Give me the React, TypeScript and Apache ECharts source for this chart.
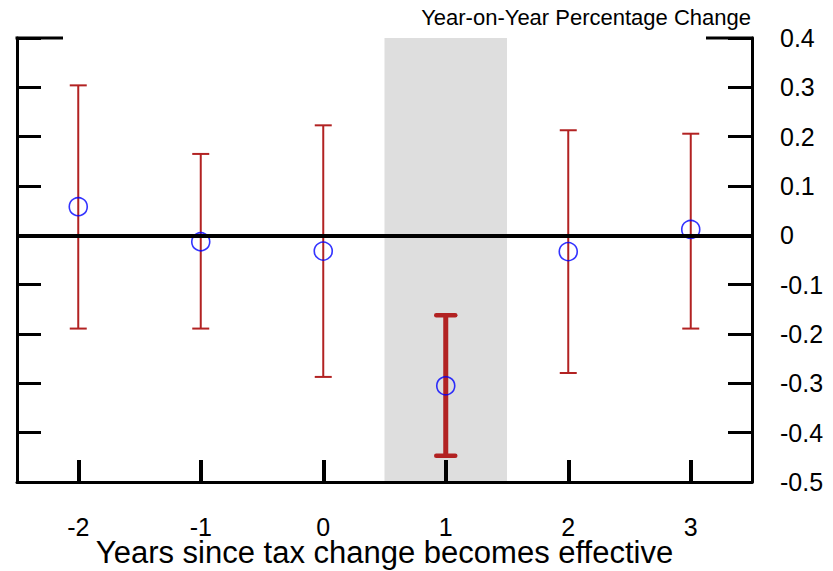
import React, { useEffect, useRef } from 'react';
import * as echarts from 'echarts';

const years = ['-2', '-1', '0', '1', '2', '3'];
const estimates = [0.058, -0.013, -0.032, -0.305, -0.033, 0.012];
const lowerBounds = [-0.189, -0.189, -0.287, -0.447, -0.279, -0.189];
const upperBounds = [0.304, 0.165, 0.223, -0.162, 0.213, 0.206];
const Y_MIN = -0.5;
const Y_MAX = 0.4;
const Y_STEP = 0.1;
const highlightYear = '1';
const titleText = 'Year-on-Year Percentage Change';
const xAxisTitle = 'Years since tax change becomes effective';

const FONT = '"Liberation Sans", Arial, Helvetica, sans-serif';
const RED = '#b22222';

export default function App() {
  const ref = useRef<HTMLDivElement>(null);
  useEffect(() => {
    if (!ref.current) return;
    const chart = echarts.init(ref.current, undefined, { renderer: 'svg' });
    const hiIdx = years.indexOf(highlightYear);

    const yAxisCommon = {
      type: 'value',
      min: Y_MIN,
      max: Y_MAX,
      interval: Y_STEP,
      splitLine: { show: false },
      axisLine: { show: true, lineStyle: { color: '#000', width: 3 } },
      axisTick: { show: true, inside: true, length: 24, lineStyle: { color: '#000', width: 3 } },
      z: 10,
    };

    chart.setOption({
      animation: false,
      backgroundColor: '#fff',
      title: {
        text: titleText,
        right: 77,
        top: 1,
        textStyle: { fontFamily: FONT, fontSize: 22, fontWeight: 'normal', color: '#000' },
      },
      grid: { left: 17, right: 81, top: 38, bottom: 89, containLabel: false, outerBoundsMode: 'none' },
      xAxis: {
        type: 'category',
        data: years,
        boundaryGap: true,
        z: 10,
        axisLine: { show: true, onZero: false, lineStyle: { color: '#000', width: 3 } },
        axisTick: { show: true, inside: true, alignWithLabel: true, length: 22, lineStyle: { color: '#000', width: 4 } },
        axisLabel: { fontFamily: FONT, fontSize: 25, lineHeight: 19, color: '#000', margin: 35 },
        splitLine: { show: false },
        name: xAxisTitle,
        nameLocation: 'middle',
        nameGap: 56,
        nameMoveOverlap: false,
        nameTextStyle: { fontFamily: FONT, fontSize: 31, lineHeight: 29, color: '#000' },
      },
      yAxis: [
        {
          ...yAxisCommon,
          position: 'right',
          axisLabel: { fontFamily: FONT, fontSize: 25, color: '#000', margin: 28 },
        },
        {
          ...yAxisCommon,
          position: 'left',
          axisLabel: { show: false },
        },
      ],
      series: [
        {
          type: 'custom',
          name: 'shade',
          z: -1,
          silent: true,
          encode: { x: 0, y: [1, 2] },
          data: [[hiIdx, Y_MIN, Y_MAX]],
          renderItem: (params: any, api: any) => {
            const x = api.value(0);
            const top = api.coord([x, api.value(2)]);
            const bot = api.coord([x, api.value(1)]);
            const w = api.size([1, 0])[0];
            return {
              type: 'rect',
              shape: { x: top[0] - w / 2, y: top[1], width: w, height: bot[1] - top[1] },
              style: { fill: '#dedede' },
            };
          },
        },
        {
          type: 'custom',
          name: 'frame',
          z: 11,
          silent: true,
          encode: { x: 0, y: 1 },
          data: [[0, Y_MAX]],
          renderItem: (params: any, api: any) => {
            const first = api.coord([0, Y_MAX]);
            const last = api.coord([years.length - 1, Y_MAX]);
            const w = api.size([1, 0])[0];
            const left = first[0] - w / 2;
            const right = last[0] + w / 2;
            const y = first[1];
            return {
              type: 'group',
              children: [
                { type: 'line', shape: { x1: left - 1.5, y1: y, x2: left + 46, y2: y }, style: { stroke: '#000', lineWidth: 3 } },
                { type: 'line', shape: { x1: right - 46, y1: y, x2: right + 1.5, y2: y }, style: { stroke: '#000', lineWidth: 3 } },
              ],
            };
          },
        },
        {
          type: 'custom',
          name: 'ci',
          z: 3,
          encode: { x: 0, y: [1, 2] },
          data: years.map((_, i) => [i, lowerBounds[i], upperBounds[i]]),
          renderItem: (params: any, api: any) => {
            const x = api.value(0);
            const lo = api.coord([x, api.value(1)]);
            const hi = api.coord([x, api.value(2)]);
            const sig = years[x] === highlightYear;
            const lw = sig ? 5 : 2;
            const capHalf = sig ? 9.5 : 8.5;
            const capW = sig ? 4.5 : 2;
            const cap = sig ? 'round' : 'butt';
            return {
              type: 'group',
              children: [
                { type: 'line', shape: { x1: lo[0], y1: lo[1], x2: hi[0], y2: hi[1] }, style: { stroke: RED, lineWidth: lw } },
                { type: 'line', shape: { x1: lo[0] - capHalf, y1: lo[1], x2: lo[0] + capHalf, y2: lo[1] }, style: { stroke: RED, lineWidth: capW, lineCap: cap } },
                { type: 'line', shape: { x1: hi[0] - capHalf, y1: hi[1], x2: hi[0] + capHalf, y2: hi[1] }, style: { stroke: RED, lineWidth: capW, lineCap: cap } },
              ],
            };
          },
        },
        {
          type: 'scatter',
          name: 'estimate',
          z: 4,
          symbol: 'circle',
          symbolSize: 18,
          itemStyle: { color: 'rgba(0,0,0,0)', borderColor: '#0000ff', borderWidth: 1.6 },
          data: years.map((_, i) => [i, estimates[i]]),
          markLine: {
            silent: true,
            symbol: 'none',
            label: { show: false },
            lineStyle: { color: '#000', width: 4, type: 'solid' },
            data: [{ yAxis: 0 }],
          },
        },
      ],
    });
    return () => chart.dispose();
  }, []);
  return <div ref={ref} style={{ position: 'fixed', left: 0, top: 0, width: 833, height: 571 }} />;
}
